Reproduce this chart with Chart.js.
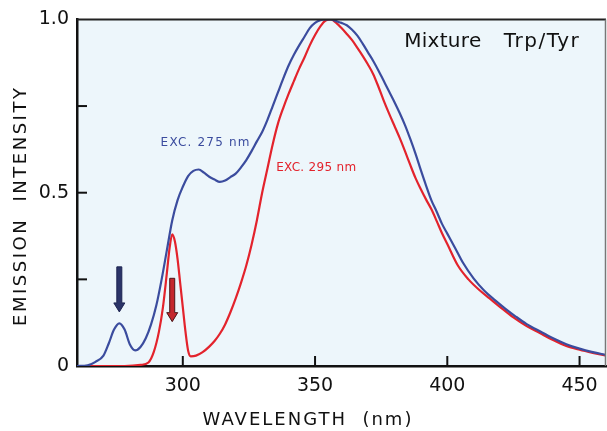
<!DOCTYPE html>
<html>
<head>
<meta charset="utf-8">
<script src="https://cdn.jsdelivr.net/npm/chart.js@4.4.1/dist/chart.umd.min.js"></script>
<style>
  html, body { margin: 0; padding: 0; background: #fff; }
  #wrap { width: 607px; height: 431px; }
</style>
</head>
<body>
<div id="wrap"><canvas id="spectra"></canvas></div>
<script>
// emission spectra (wavelength in nm, normalised intensity)
var wlBlue = [260, 264, 267, 270, 272, 274, 276, 278, 280, 282, 284, 286, 288, 290, 292, 294, 296, 298,
  300, 302, 304, 306, 308, 310, 312, 314, 316, 318, 320, 322, 324, 326, 328, 330, 332, 334, 336, 338,
  340, 342, 344, 346, 348, 350, 352, 354, 356, 358, 360, 362, 364, 366, 368, 370, 372, 374, 376, 378,
  380, 382, 384, 386, 388, 390, 392, 394, 396, 398, 400, 403, 406, 410, 414, 418, 422, 426, 430, 435,
  440, 445, 450, 455, 460];
var exc275 = [0, 0.002, 0.012, 0.03, 0.065, 0.105, 0.123, 0.105, 0.062, 0.045, 0.055, 0.08, 0.12, 0.175, 0.25, 0.335, 0.42, 0.478,
  0.517, 0.548, 0.563, 0.567, 0.558, 0.546, 0.538, 0.531, 0.535, 0.545, 0.555, 0.573, 0.594, 0.62, 0.648, 0.675, 0.71, 0.75, 0.79, 0.83,
  0.867, 0.898, 0.925, 0.95, 0.975, 0.99, 0.998, 1.0, 1.0, 0.995, 0.99, 0.983, 0.97, 0.953, 0.93, 0.905, 0.88, 0.852, 0.822, 0.792,
  0.762, 0.73, 0.695, 0.655, 0.612, 0.565, 0.52, 0.478, 0.445, 0.41, 0.382, 0.34, 0.297, 0.252, 0.217, 0.19, 0.165, 0.142, 0.121, 0.1,
  0.08, 0.063, 0.05, 0.04, 0.032];

var wlRed = [260, 278, 284, 287, 289, 291, 292.5, 294, 295, 296, 297, 298, 299, 300, 301, 302, 303, 305, 307.5,
  310, 312, 314, 316, 318, 320, 322, 324, 326, 328, 330, 332, 334, 336, 338, 340, 342, 344, 346, 348, 350,
  352, 354, 356, 358, 360, 362, 364, 366, 368, 370, 372, 374, 376, 378, 380, 382, 384, 386, 388, 390, 392,
  394, 396, 398, 400, 404, 408, 412, 416, 420, 425, 430, 435, 440, 445, 450, 455, 460];
var exc295 = [0, 0, 0.003, 0.01, 0.04, 0.1, 0.17, 0.27, 0.34, 0.38, 0.36, 0.31, 0.24, 0.17, 0.1, 0.045, 0.028, 0.03, 0.04,
  0.056, 0.072, 0.093, 0.12, 0.155, 0.195, 0.24, 0.29, 0.35, 0.42, 0.5, 0.57, 0.64, 0.7, 0.745, 0.785, 0.822, 0.858, 0.89, 0.925, 0.955,
  0.98, 0.997, 1.0, 0.99, 0.975, 0.958, 0.94, 0.918, 0.895, 0.87, 0.842, 0.805, 0.765, 0.728, 0.693, 0.658, 0.62, 0.58, 0.542, 0.51, 0.48,
  0.452, 0.418, 0.383, 0.352, 0.29, 0.25, 0.22, 0.195, 0.17, 0.14, 0.115, 0.095, 0.075, 0.058, 0.047, 0.038, 0.03];

var xTicks = [300, 350, 400, 450];
var yTicks = [0, 0.25, 0.5, 0.75, 1.0];
var yTickLabels = ['0', '', '0.5', '', '1.0'];

// excitation arrows: wavelength, top of shaft, tip (data units)
var arrowX = [276, 296];
var arrowTop = [0.286, 0.253];
var arrowTip = [0.156, 0.128];

var blue = '#3b4c9e';
var red = '#e3232c';

function toPoints(xs, ys) {
  return xs.map(function (x, i) { return { x: x, y: ys[i] }; });
}

function spaced(ctx, text, x, y, spacing) {
  ctx.letterSpacing = spacing + 'px';
  ctx.fillText(text, x + spacing / 2, y);
  ctx.letterSpacing = '0px';
}

var decor = {
  id: 'decor',
  beforeDraw: function (chart) {
    var ctx = chart.ctx, a = chart.chartArea;
    ctx.save();
    ctx.fillStyle = '#edf6fb';
    ctx.fillRect(a.left, a.top, a.right - a.left, a.bottom - a.top);
    ctx.restore();
  },
  afterDraw: function (chart) {
    var ctx = chart.ctx, a = chart.chartArea;
    var xs = chart.scales.x, ys = chart.scales.y;
    ctx.save();
    // top and right frame
    ctx.strokeStyle = '#222';
    ctx.lineWidth = 2;
    ctx.beginPath();
    ctx.moveTo(a.left, a.top);
    ctx.lineTo(a.right, a.top);
    ctx.stroke();
    ctx.strokeStyle = '#777';
    ctx.lineWidth = 1.5;
    ctx.beginPath();
    ctx.moveTo(a.right - 0.5, a.top);
    ctx.lineTo(a.right - 0.5, a.bottom);
    ctx.stroke();

    // inward tick marks
    ctx.strokeStyle = '#111';
    ctx.lineWidth = 2;
    xTicks.forEach(function (v) {
      var px = xs.getPixelForValue(v);
      ctx.beginPath();
      ctx.moveTo(px, a.bottom);
      ctx.lineTo(px, a.bottom - 10);
      ctx.stroke();
    });
    [0.25, 0.5, 0.75].forEach(function (v) {
      var py = ys.getPixelForValue(v);
      ctx.beginPath();
      ctx.moveTo(a.left, py);
      ctx.lineTo(a.left + 10, py);
      ctx.stroke();
    });

    // arrows
    var fills = ['#2b3468', '#c4272d'];
    var edges = ['#1d2450', '#4a1618'];
    arrowX.forEach(function (v, i) {
      var px = xs.getPixelForValue(v);
      var y0 = ys.getPixelForValue(arrowTop[i]);
      var y1 = ys.getPixelForValue(arrowTip[i]);
      ctx.fillStyle = fills[i];
      ctx.strokeStyle = edges[i];
      ctx.lineWidth = 1;
      ctx.beginPath();
      ctx.moveTo(px - 2.5, y0);
      ctx.lineTo(px + 2.5, y0);
      ctx.lineTo(px + 2.5, y1 - 9);
      ctx.lineTo(px + 5.5, y1 - 9);
      ctx.lineTo(px, y1);
      ctx.lineTo(px - 5.5, y1 - 9);
      ctx.lineTo(px - 2.5, y1 - 9);
      ctx.closePath();
      ctx.fill();
      ctx.stroke();
    });

    // curve labels
    ctx.font = '12px "DejaVu Sans"';
    ctx.textBaseline = 'middle';
    ctx.textAlign = 'left';
    ctx.fillStyle = blue;
    spaced(ctx, 'EXC. 275 nm', 160, 143, 1.2);
    ctx.fillStyle = red;
    spaced(ctx, 'EXC. 295 nm', 276, 168, 0.3);
    ctx.fillStyle = '#111';
    ctx.font = '20px "DejaVu Sans"';
    spaced(ctx, 'Mixture', 404, 42, 0.3);
    spaced(ctx, 'Trp/Tyr', 503, 42, 1.5);

    // axis titles
    ctx.font = '18px "DejaVu Sans"';
    ctx.textAlign = 'center';
    spaced(ctx, 'WAVELENGTH  (nm)', 307, 420, 2);
    ctx.translate(21, 207);
    ctx.rotate(-Math.PI / 2);
    spaced(ctx, 'EMISSION  INTENSITY', 0, 0, 2.5);
    ctx.restore();
  }
};

new Chart(document.getElementById('spectra'), {
  type: 'line',
  data: {
    datasets: [{
      label: 'EXC. 275 nm',
      data: toPoints(wlBlue, exc275),
      borderColor: blue,
      borderWidth: 2.2,
      pointRadius: 0,
      fill: false,
      cubicInterpolationMode: 'monotone'
    }, {
      label: 'EXC. 295 nm',
      data: toPoints(wlRed, exc295),
      borderColor: red,
      borderWidth: 2.2,
      pointRadius: 0,
      fill: false,
      cubicInterpolationMode: 'monotone'
    }]
  },
  options: {
    responsive: true,
    maintainAspectRatio: false,
    animation: false,
    layout: { padding: { top: 19, right: 1, left: 0, bottom: 0 } },
    plugins: { legend: { display: false }, tooltip: { enabled: false } },
    scales: {
      x: {
        type: 'linear',
        min: 260,
        max: 460,
        afterFit: function (s) { s.height = 65; },
        afterBuildTicks: function (s) { s.ticks = xTicks.map(function (v) { return { value: v }; }); },
        grid: { display: false, drawTicks: false },
        border: { display: true, color: '#111', width: 2.5 },
        ticks: { color: '#111', padding: 9, font: { family: 'DejaVu Sans', size: 19 } }
      },
      y: {
        min: 0,
        max: 1,
        afterFit: function (s) { s.width = 77; },
        afterBuildTicks: function (s) { s.ticks = yTicks.map(function (v) { return { value: v }; }); },
        grid: { display: false, drawTicks: false },
        border: { display: true, color: '#111', width: 2.5 },
        ticks: {
          color: '#111',
          padding: 8,
          font: { family: 'DejaVu Sans', size: 19 },
          callback: function (v) { return yTickLabels[yTicks.indexOf(v)]; }
        }
      }
    }
  },
  plugins: [decor]
});
</script>
</body>
</html>
